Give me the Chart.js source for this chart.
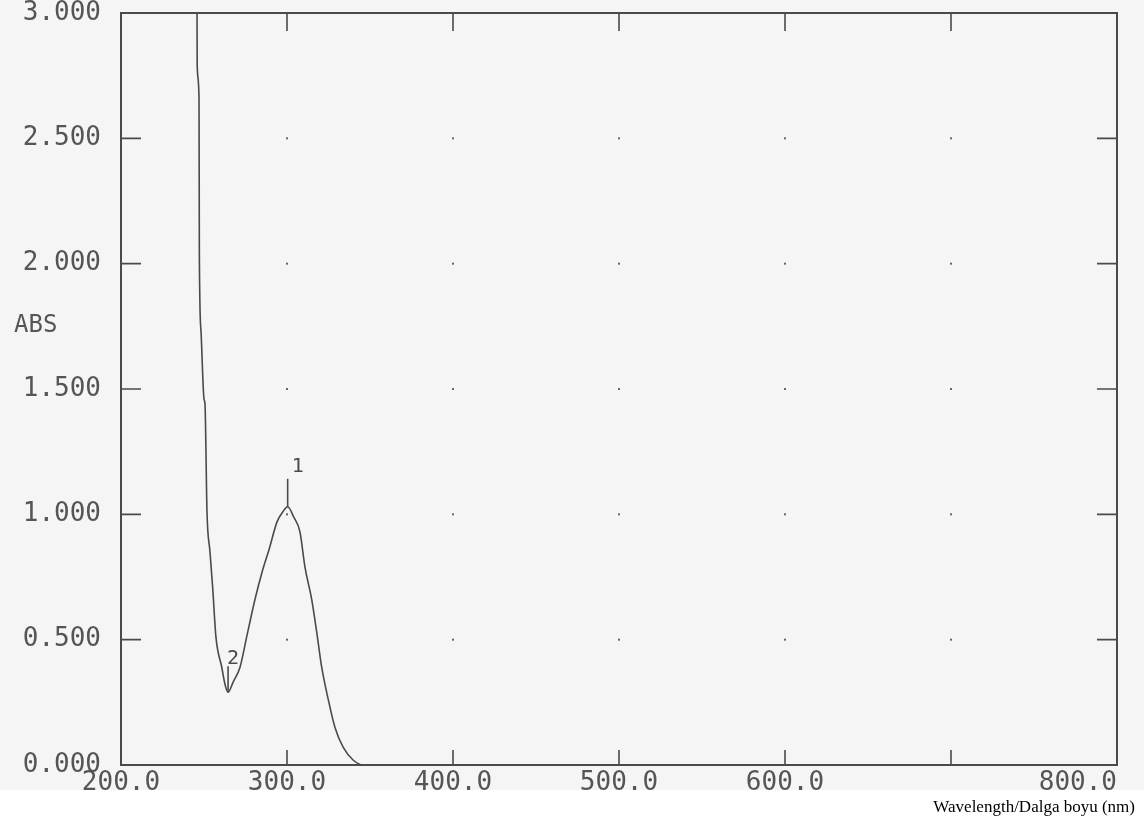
<!DOCTYPE html>
<html>
<head>
<meta charset="utf-8">
<script src="https://cdn.jsdelivr.net/npm/chart.js@4.4.1/dist/chart.umd.min.js"></script>
<style>
  html, body { margin: 0; padding: 0; background: #ffffff; }
  #wrap { width: 1144px; height: 819px; position: relative; }
</style>
</head>
<body>
<div id="wrap"><canvas id="spectrum"></canvas></div>
<script>
// spectrum (nm / ABS)
const wavelengths = [245.6, 245.8, 245.9, 247.0, 247.2, 248.2, 250.0, 250.6, 251.8, 253.6, 255.2, 257.2, 260.7, 262.7, 264.5, 267.5, 271.7, 276.0, 280.7, 285.0, 289.2, 294.0, 297.5, 300.4, 304.0, 307.8, 310.8, 314.9, 317.9, 320.9, 324.9, 328.9, 333.9, 339.8, 345.8, 400.0, 500.0, 600.0, 700.0, 800.0];
const absorbance  = [3.20, 3.00, 2.79, 2.66, 2.04, 1.73, 1.46, 1.44, 1.01, 0.85, 0.71, 0.51, 0.39, 0.32, 0.29, 0.33, 0.39, 0.52, 0.66, 0.77, 0.86, 0.97, 1.01, 1.03, 0.99, 0.93, 0.79, 0.66, 0.53, 0.39, 0.26, 0.15, 0.07, 0.02, 0.00, 0.00, 0.00, 0.00, 0.00, 0.00];

// axis ticks
const xTicks = [200, 300, 400, 500, 600, 700, 800];
const xTickLabels = ['200.0', '300.0', '400.0', '500.0', '600.0', '', '800.0'];
const yTicks = [0, 0.5, 1.0, 1.5, 2.0, 2.5, 3.0];
const yTickLabels = ['0.000', '0.500', '1.000', '1.500', '2.000', '2.500', '3.000'];

// peak-pick markers
const peakNames = ['1', '2'];
const peakNm = [300.4, 264.5];
const peakAbs = [1.03, 0.29];

const ink = '#4a4a4a';
const monoFont = '"DejaVu Sans Mono", "Liberation Mono", monospace';

// paper background, inward ticks, grid dots, peak marks and captions
const plotterDecor = {
  id: 'plotterDecor',
  beforeDraw(chart) {
    const ctx = chart.ctx;
    ctx.save();
    ctx.fillStyle = '#f5f5f5';
    ctx.fillRect(0, 0, chart.width, 790);
    ctx.fillStyle = '#ffffff';
    ctx.fillRect(0, 790, chart.width, chart.height - 790);
    ctx.restore();
  },
  afterDatasetsDraw(chart) {
    const ctx = chart.ctx;
    const xs = chart.scales.x, ys = chart.scales.y;
    const a = chart.chartArea;
    ctx.save();
    ctx.strokeStyle = ink;
    ctx.lineWidth = 1.6;
    ctx.beginPath();
    xTicks.slice(1, -1).forEach(v => {
      const px = xs.getPixelForValue(v);
      ctx.moveTo(px, a.bottom); ctx.lineTo(px, a.bottom - 15);
      ctx.moveTo(px, a.top); ctx.lineTo(px, a.top + 18);
    });
    yTicks.slice(1, -1).forEach(v => {
      const py = ys.getPixelForValue(v);
      ctx.moveTo(a.left, py); ctx.lineTo(a.left + 20, py);
      ctx.moveTo(a.right, py); ctx.lineTo(a.right - 20, py);
    });
    ctx.stroke();

    // grid dots
    ctx.fillStyle = '#666';
    xTicks.slice(1, -1).forEach(xv => {
      yTicks.slice(1, -1).forEach(yv => {
        ctx.fillRect(xs.getPixelForValue(xv) - 1, ys.getPixelForValue(yv) - 1, 2, 2);
      });
    });

    // peak markers
    ctx.fillStyle = ink;
    ctx.font = '20px ' + monoFont;
    ctx.textAlign = 'left';
    ctx.textBaseline = 'bottom';
    peakNames.forEach((name, i) => {
      const px = xs.getPixelForValue(peakNm[i]);
      const py = ys.getPixelForValue(peakAbs[i]);
      const len = i === 0 ? 28 : 26;
      ctx.beginPath();
      ctx.moveTo(px, py); ctx.lineTo(px, py - len);
      ctx.stroke();
      ctx.fillText(name, px + (i === 0 ? 4 : -1), py - len + (i === 0 ? -2 : 2));
    });
    ctx.restore();
  },
  afterDraw(chart) {
    const ctx = chart.ctx;
    ctx.save();
    // photo of the plot is cut off here
    ctx.fillStyle = '#ffffff';
    ctx.fillRect(0, 790, chart.width, chart.height - 790);
    ctx.fillStyle = '#555';
    ctx.font = '24px ' + monoFont;
    ctx.textAlign = 'left';
    ctx.textBaseline = 'middle';
    ctx.fillText('ABS', 14, 326);
    ctx.fillStyle = '#000';
    ctx.font = '17px "Liberation Serif", "Times New Roman", serif';
    ctx.textAlign = 'right';
    ctx.textBaseline = 'alphabetic';
    ctx.fillText('Wavelength/Dalga boyu (nm)', 1135, 812);
    ctx.restore();
  }
};

function noPad(scale) {
  scale.paddingLeft = 0; scale.paddingRight = 0;
  scale.paddingTop = 0; scale.paddingBottom = 0;
}

new Chart(document.getElementById('spectrum'), {
  type: 'line',
  data: {
    datasets: [{
      data: wavelengths.map((w, i) => ({ x: w, y: absorbance[i] })),
      borderColor: ink,
      borderWidth: 1.6,
      pointRadius: 0,
      cubicInterpolationMode: 'monotone',
      fill: false
    }]
  },
  options: {
    responsive: true,
    maintainAspectRatio: false,
    animation: false,
    layout: { padding: { top: 13, right: 27, left: 0, bottom: 0 } },
    plugins: { legend: { display: false }, tooltip: { enabled: false } },
    scales: {
      x: {
        type: 'linear',
        min: 200, max: 800,
        afterFit(scale) { scale.height = 54; noPad(scale); },
        afterBuildTicks(scale) { scale.ticks = xTicks.map(v => ({ value: v })); },
        grid: { display: false, drawTicks: false },
        border: { display: true, color: ink, width: 2 },
        ticks: {
          padding: 3,
          color: '#555',
          font: { family: monoFont, size: 26 },
          maxRotation: 0,
          autoSkip: false,
          // last label sits inside the frame edge, as on the plotter
          callback: v => v === 800 ? xTickLabels[6] + '\u00a0'.repeat(5) : xTickLabels[xTicks.indexOf(v)]
        }
      },
      y: {
        type: 'linear',
        min: 0, max: 3,
        afterFit(scale) { scale.width = 121; noPad(scale); },
        afterBuildTicks(scale) { scale.ticks = yTicks.map(v => ({ value: v })); },
        grid: { display: false, drawTicks: false },
        border: { display: true, color: ink, width: 2 },
        ticks: {
          padding: 20,
          color: '#555',
          font: { family: monoFont, size: 26 },
          autoSkip: false,
          callback: v => yTickLabels[yTicks.indexOf(v)]
        }
      },
      x2: {
        type: 'linear', position: 'top', min: 200, max: 800,
        display: true,
        afterFit(scale) { scale.height = 0; noPad(scale); },
        grid: { display: false, drawTicks: false },
        border: { display: true, color: ink, width: 2 },
        ticks: { display: false }
      },
      y2: {
        type: 'linear', position: 'right', min: 0, max: 3,
        display: true,
        afterFit(scale) { scale.width = 0; noPad(scale); },
        grid: { display: false, drawTicks: false },
        border: { display: true, color: ink, width: 2 },
        ticks: { display: false }
      }
    }
  },
  plugins: [plotterDecor]
});
</script>
</body>
</html>
